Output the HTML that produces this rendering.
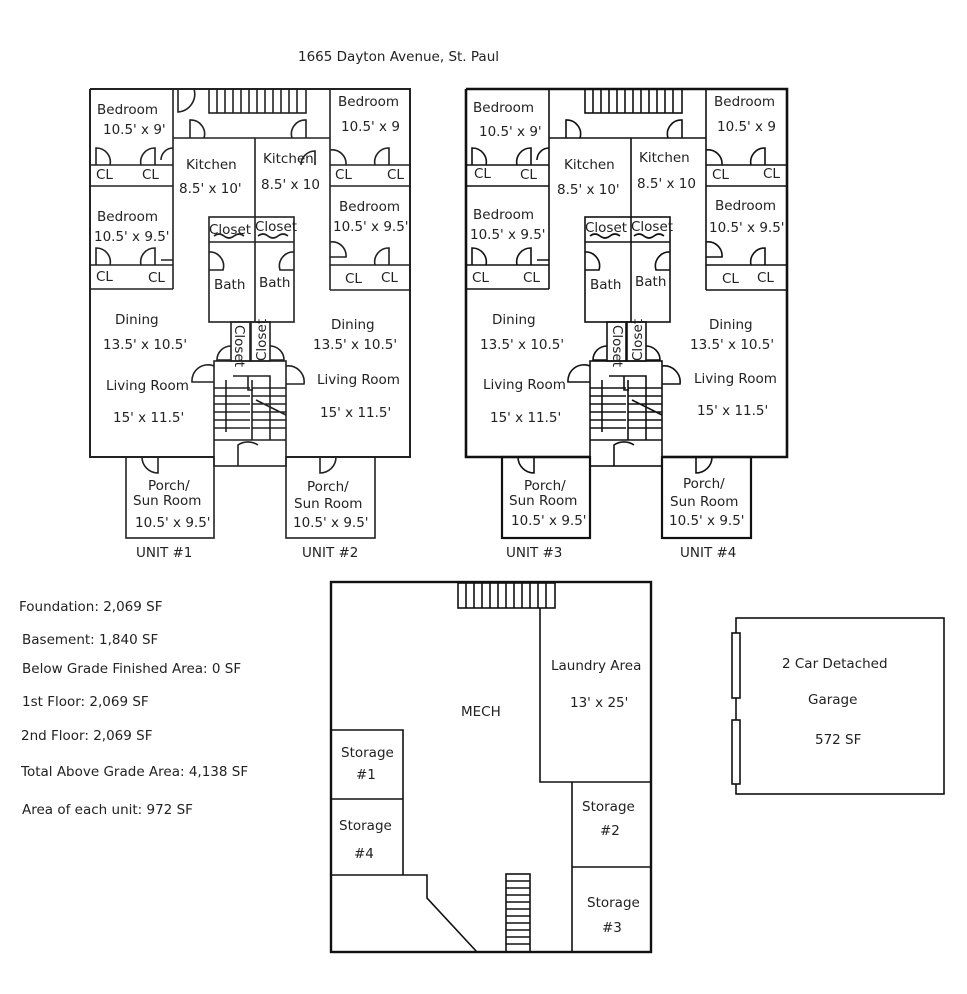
<!DOCTYPE html>
<html><head><meta charset="utf-8"><style>
html,body{margin:0;padding:0;background:#fff;}
svg{display:block;}
text{font-family:"DejaVu Sans","Liberation Sans",sans-serif;font-size:13.5px;fill:#222;}
</style></head><body>
<svg width="967" height="994" viewBox="0 0 967 994" xmlns="http://www.w3.org/2000/svg">
<text x="298" y="61" font-size="13.5">1665 Dayton Avenue, St. Paul</text>

<!-- PLAN 1 -->
<g>
<g stroke="#222" stroke-width="1.6" fill="none">
<path d="M90 89H410V457H286M214 457H90V89" stroke-width="2"/>
<rect x="209" y="89" width="97" height="24"/>
<path d="M217 89V113M225 89V113M233 89V113M241 89V113M249 89V113M257 89V113M265 89V113M273 89V113M281 89V113M289 89V113M297 89V113"/>
<path d="M173 89V289M90 165H173M90 186H173M90 265H173M90 289H173"/>
<path d="M330 89V290M330 165H410M330 186H410M330 265H410M330 290H410"/>
<path d="M173 138H330M255 138V322"/>
<rect x="209" y="217" width="85" height="105"/>
<path d="M209 242H294"/>
<path d="M214 236q5-4 10 0t10 0t10 0M258 236q5-4 10 0t10 0t10 0"/>
<rect x="231" y="322" width="19" height="39"/><rect x="251" y="322" width="19" height="39"/>
<rect x="214" y="361" width="72" height="105"/>
<path d="M214 440H286"/>
<path d="M233 376H270V440M248 376V390h5M226 380V432"/>
<path d="M214 388H250M214 396H250M214 404H250M214 412H250M214 420H250M214 428H250M252 388H286M252 396H286M252 404H286M252 412H286M252 420H286M252 428H286M252 380V440M256 400L286 415"/>
<path d="M238 466V445a18 18 0 0 1 20 0"/>
<rect x="126" y="457" width="88" height="81"/>
<rect x="286" y="457" width="89" height="81"/>
<path d="M178 89v23a18 18 0 0 0 16-23M190 138v-18a14 14 0 0 1 14 18M306 138v-18a14 14 0 0 0-14 18"/>
<path d="M96 165v-17a14 14 0 0 1 14 17M141 165a14 14 0 0 1 14-17v17M161 160a12 12 0 0 1 12-12M96 265v-17a14 14 0 0 1 14 17M141 265a14 14 0 0 1 14-17v17M161 260h12"/>
<path d="M315 165v-14a14 14 0 0 0-14 14M375 165a14 14 0 0 1 14-17v17M330 150a14 14 0 0 1 16 15M330 242a14 14 0 0 1 16 15h-16M375 265a14 14 0 0 1 14-17v17"/>
<path d="M209 252a14 14 0 0 1 14 18h-14M294 252a14 14 0 0 0-14 18h14"/>
<path d="M231 346a14 14 0 0 0-14 14h14M270 346a14 14 0 0 1 14 14h-14"/>
<path d="M214 366a16 16 0 0 0-22 16h22M286 366a16 16 0 0 1 18 18h-18"/>
<path d="M158 457v16a16 16 0 0 1-16-16M320 457v16a16 16 0 0 0 16-16"/>
</g>
<text x="97" y="114">Bedroom</text><text x="103" y="134">10.5' x 9'</text>
<text x="338" y="106">Bedroom</text><text x="341" y="131">10.5' x 9</text>
<text x="97" y="221">Bedroom</text><text x="94" y="241">10.5' x 9.5'</text>
<text x="339" y="211">Bedroom</text><text x="333" y="231">10.5' x 9.5'</text>
<text x="186" y="169">Kitchen</text><text x="179" y="193">8.5' x 10'</text>
<text x="263" y="163">Kitchen</text><text x="261" y="189">8.5' x 10</text>
<text x="96" y="179">CL</text><text x="142" y="179">CL</text>
<text x="96" y="281">CL</text><text x="148" y="282">CL</text>
<text x="335" y="179">CL</text><text x="387" y="179">CL</text>
<text x="345" y="283">CL</text><text x="381" y="282">CL</text>
<text x="209" y="234" font-size="12.5">Closet</text><text x="255" y="231" font-size="12.5">Closet</text>
<text x="214" y="289">Bath</text><text x="259" y="287">Bath</text>
<text transform="translate(235,325) rotate(90)" font-size="11.5">Closet</text>
<text transform="translate(266,361) rotate(-90)" font-size="11.5">Closet</text>
<text x="115" y="324">Dining</text><text x="103" y="349">13.5' x 10.5'</text>
<text x="331" y="329">Dining</text><text x="313" y="349">13.5' x 10.5'</text>
<text x="106" y="390">Living Room</text><text x="113" y="422">15' x 11.5'</text>
<text x="317" y="384">Living Room</text><text x="320" y="417">15' x 11.5'</text>
<text x="148" y="490">Porch/</text><text x="133" y="505">Sun Room</text><text x="135" y="527">10.5' x 9.5'</text>
<text x="307" y="491">Porch/</text><text x="294" y="508">Sun Room</text><text x="293" y="527">10.5' x 9.5'</text>
<text x="136" y="557">UNIT #1</text><text x="302" y="557">UNIT #2</text>
</g>

<!-- PLAN 2 -->
<g transform="translate(376,0)">
<g stroke="#111" stroke-width="1.6" fill="none">
<path d="M90 89H411V457H286M214 457H90V89" stroke-width="2.6"/>
<rect x="209" y="89" width="97" height="24"/>
<path d="M217 89V113M225 89V113M233 89V113M241 89V113M249 89V113M257 89V113M265 89V113M273 89V113M281 89V113M289 89V113M297 89V113"/>
<path d="M173 89V289M90 165H173M90 186H173M90 265H173M90 289H173"/>
<path d="M330 89V290M330 165H410M330 186H410M330 265H410M330 290H410"/>
<path d="M173 138H330M255 138V322"/>
<rect x="209" y="217" width="85" height="105"/>
<path d="M209 242H294"/>
<path d="M214 236q5-4 10 0t10 0t10 0M258 236q5-4 10 0t10 0t10 0"/>
<rect x="231" y="322" width="19" height="39"/><rect x="251" y="322" width="19" height="39"/>
<rect x="214" y="361" width="72" height="105"/>
<path d="M214 440H286"/>
<path d="M233 376H270V440M248 376V390h5M226 380V432"/>
<path d="M214 388H250M214 396H250M214 404H250M214 412H250M214 420H250M214 428H250M252 388H286M252 396H286M252 404H286M252 412H286M252 420H286M252 428H286M252 380V440M256 400L286 415"/>
<path d="M238 466V445a18 18 0 0 1 20 0"/>
<rect x="126" y="457" width="88" height="81" stroke-width="2.2"/>
<rect x="286" y="457" width="89" height="81" stroke-width="2.2"/>
<path d="M190 138v-18a14 14 0 0 1 14 18M306 138v-18a14 14 0 0 0-14 18"/>
<path d="M96 165v-17a14 14 0 0 1 14 17M141 165a14 14 0 0 1 14-17v17M161 160a12 12 0 0 1 12-12M96 265v-17a14 14 0 0 1 14 17M141 265a14 14 0 0 1 14-17v17M161 260h12"/>
<path d="M375 165a14 14 0 0 1 14-17v17M330 150a14 14 0 0 1 16 15M330 242a14 14 0 0 1 16 15h-16M375 265a14 14 0 0 1 14-17v17"/>
<path d="M209 252a14 14 0 0 1 14 18h-14M294 252a14 14 0 0 0-14 18h14"/>
<path d="M231 346a14 14 0 0 0-14 14h14M270 346a14 14 0 0 1 14 14h-14"/>
<path d="M214 366a16 16 0 0 0-22 16h22M286 366a16 16 0 0 1 18 18h-18"/>
<path d="M158 457v16a16 16 0 0 1-16-16M320 457v16a16 16 0 0 0 16-16"/>
</g>
<text x="97" y="112">Bedroom</text><text x="103" y="136">10.5' x 9'</text>
<text x="338" y="106">Bedroom</text><text x="341" y="131">10.5' x 9</text>
<text x="97" y="219">Bedroom</text><text x="94" y="239">10.5' x 9.5'</text>
<text x="339" y="210">Bedroom</text><text x="333" y="232">10.5' x 9.5'</text>
<text x="188" y="169">Kitchen</text><text x="181" y="194">8.5' x 10'</text>
<text x="263" y="162">Kitchen</text><text x="261" y="188">8.5' x 10</text>
<text x="98" y="178">CL</text><text x="144" y="179">CL</text>
<text x="96" y="282">CL</text><text x="147" y="282">CL</text>
<text x="336" y="179">CL</text><text x="387" y="178">CL</text>
<text x="346" y="283">CL</text><text x="381" y="282">CL</text>
<text x="209" y="232" font-size="12.5">Closet</text><text x="255" y="231" font-size="12.5">Closet</text>
<text x="214" y="289">Bath</text><text x="259" y="286">Bath</text>
<text transform="translate(237,325) rotate(90)" font-size="11.5">Closet</text>
<text transform="translate(266,361) rotate(-90)" font-size="11.5">Closet</text>
<text x="116" y="324">Dining</text><text x="104" y="349">13.5' x 10.5'</text>
<text x="333" y="329">Dining</text><text x="314" y="349">13.5' x 10.5'</text>
<text x="107" y="389">Living Room</text><text x="114" y="422">15' x 11.5'</text>
<text x="318" y="383">Living Room</text><text x="321" y="415">15' x 11.5'</text>
<text x="148" y="490">Porch/</text><text x="133" y="505">Sun Room</text><text x="135" y="525">10.5' x 9.5'</text>
<text x="307" y="488">Porch/</text><text x="294" y="506">Sun Room</text><text x="293" y="525">10.5' x 9.5'</text>
<text x="130" y="557">UNIT #3</text><text x="304" y="557">UNIT #4</text>
</g>

<!-- stats -->
<text x="19" y="611">Foundation: 2,069 SF</text>
<text x="22" y="644">Basement: 1,840 SF</text>
<text x="22" y="673">Below Grade Finished Area: 0 SF</text>
<text x="22" y="706">1st Floor: 2,069 SF</text>
<text x="21" y="740">2nd Floor: 2,069 SF</text>
<text x="21" y="776">Total Above Grade Area: 4,138 SF</text>
<text x="22" y="814">Area of each unit: 972 SF</text>

<!-- basement -->
<g stroke="#111" stroke-width="1.6" fill="none">
<rect x="331" y="582" width="320" height="370" stroke-width="2.4"/>
<rect x="458" y="583" width="97" height="25"/>
<path d="M466 583V608M474 583V608M482 583V608M490 583V608M498 583V608M506 583V608M514 583V608M522 583V608M530 583V608M538 583V608M546 583V608"/>
<path d="M540 608V782H651M331 730H403V875M331 799H403M331 875H427V898L477 952M572 782V952M572 867H651"/>
<rect x="506" y="874" width="24" height="78"/>
<path d="M506 881H530M506 888H530M506 895H530M506 902H530M506 909H530M506 916H530M506 923H530M506 930H530M506 937H530M506 944H530"/>
</g>
<text x="551" y="670">Laundry Area</text><text x="570" y="707">13' x 25'</text>
<text x="461" y="716">MECH</text>
<text x="341" y="757">Storage</text><text x="356" y="779">#1</text>
<text x="339" y="830">Storage</text><text x="354" y="858">#4</text>
<text x="582" y="811">Storage</text><text x="600" y="835">#2</text>
<text x="587" y="907">Storage</text><text x="602" y="932">#3</text>

<!-- garage -->
<g stroke="#111" stroke-width="1.6" fill="none">
<rect x="736" y="618" width="208" height="176"/>
<rect x="732" y="633" width="8" height="65" fill="#fff"/>
<rect x="732" y="720" width="8" height="64" fill="#fff"/>
</g>
<text x="782" y="668">2 Car Detached</text>
<text x="808" y="704">Garage</text>
<text x="815" y="744">572 SF</text>
</svg>
</body></html>
